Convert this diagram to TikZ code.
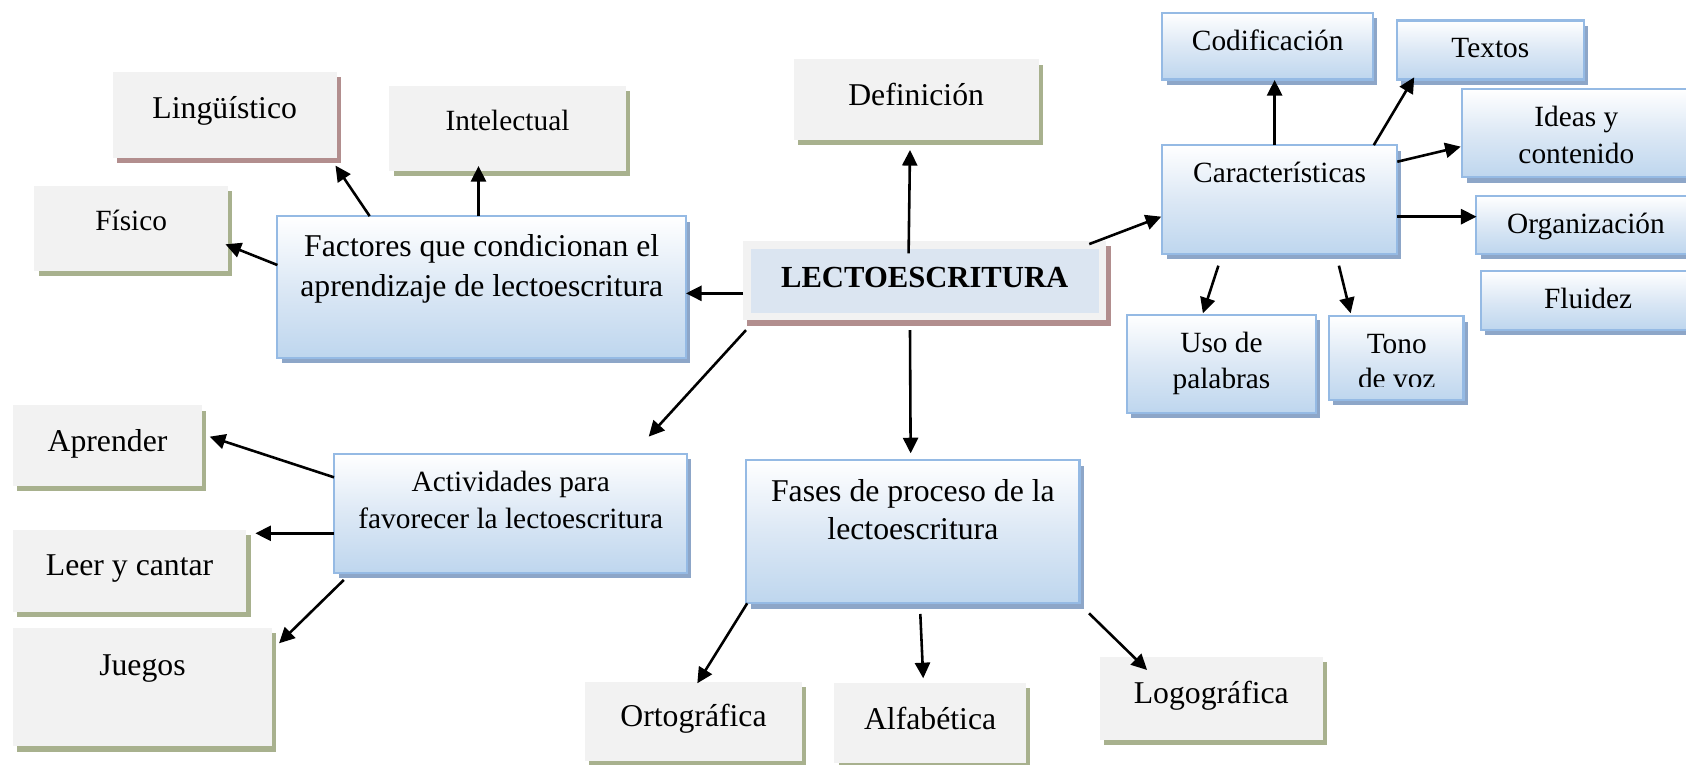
\documentclass[tikz,border=0pt]{standalone}
\usepackage{fontspec}
\setmainfont{Liberation Serif}
\usetikzlibrary{shadows,arrows.meta}
\definecolor{gfill}{RGB}{242,242,242}
\definecolor{gshad}{RGB}{168,177,142}
\definecolor{rshad}{RGB}{178,142,142}
\definecolor{bline}{RGB}{149,186,228}
\definecolor{bfill}{RGB}{190,214,238}
\definecolor{bmid}{RGB}{220,232,245}
\definecolor{bshad}{RGB}{141,166,200}
\definecolor{linner}{RGB}{219,229,241}
\tikzset{
 bx/.style={anchor=north west, inner sep=0pt, outer sep=0pt},
 graybox/.style={bx, fill=gfill, drop shadow={shadow xshift=4pt, shadow yshift=-5pt, fill=gshad, opacity=1}},
 redbox/.style={bx, fill=gfill, drop shadow={shadow xshift=4pt, shadow yshift=-5pt, fill=rshad, opacity=1}},
 bluebox/.style={bx, draw=bline, line width=2pt, top color=white, bottom color=bfill, middle color=bmid, drop shadow={shadow xshift=4pt, shadow yshift=-5pt, fill=bshad, opacity=1}},
 innerbox/.style={bx, fill=linner},
 txtL/.style={anchor=base, inner sep=0pt, font=\fontsize{29.5}{35}\selectfont},
 txtS/.style={anchor=base, inner sep=0pt, font=\fontsize{27.3}{33}\selectfont},
 txtB/.style={anchor=base, inner sep=0pt, font=\fontsize{28.5}{34}\selectfont\bfseries},
 arr/.style={line width=2.4pt, -{Triangle[length=14.5pt,width=14pt]}},
}
\newcommand\mkbox[6]{\node[#1, minimum width={(#5-#3)*1pt}, minimum height={(#6-#4)*1pt}] (#2) at (#3,#4) {};}
\begin{document}
\begin{tikzpicture}[x=1pt,y=-1pt]
\fill[white] (0,0) rectangle (1568,711);
\useasboundingbox (0,0) rectangle (1568,711);
% boxes
\mkbox{redbox}{ling}{105}{67}{313}{147}
\mkbox{graybox}{intel}{362}{80}{582}{159}
\mkbox{graybox}{fis}{32}{173}{212}{252}
\mkbox{bluebox}{fact}{258}{201}{638}{333}
\mkbox{graybox}{defi}{738}{55}{966}{130}
\mkbox{redbox}{lecto}{691}{224}{1029}{298}
\mkbox{innerbox}{lectoIn}{698.5}{231.6}{1022}{290.8}
\mkbox{bluebox}{codi}{1081}{12}{1277}{74}
\mkbox{bluebox}{texto}{1299}{19}{1473}{74}
\mkbox{bluebox}{ideas}{1360}{83}{1575}{165}
\mkbox{bluebox}{carac}{1081}{135}{1299}{236}
\mkbox{bluebox}{orga}{1373}{182}{1577}{236}
\mkbox{bluebox}{flui}{1377}{252}{1578}{307}
\mkbox{bluebox}{uso}{1048}{293}{1224}{384}
\mkbox{bluebox}{tono}{1236}{294}{1361}{372}
\mkbox{bluebox}{acti}{311}{422}{639}{533}
\mkbox{graybox}{apre}{12}{377}{188}{452}
\mkbox{graybox}{leer}{12}{493}{229}{569}
\mkbox{graybox}{jueg}{12}{584}{253}{694}
\mkbox{bluebox}{fase}{694}{428}{1004}{561}
\mkbox{graybox}{orto}{544}{634}{746}{708}
\mkbox{graybox}{alfa}{776}{635}{954}{710}
\mkbox{graybox}{logo}{1023}{611}{1230}{688}
% texts
\node[txtL] (lingT) at (209,110) {Lingüístico};
\node[txtS] (intelT) at (472,121) {Intelectual};
\node[txtS] (fisT) at (122,214) {Físico};
\node[txtL] (factT1) at (448,238.7) {Factores que condicionan el};
\node[txtL] (factT2) at (448,276) {aprendizaje de lectoescritura};
\node[txtL] (defiT) at (852,98.3) {Definición};
\node[txtB] (lectoT) at (860,267.2) {LECTOESCRITURA};
\node[txtS] (codiT) at (1179,47.1) {Codificación};
\node[txtS] (textoT) at (1386,53.3) {Textos};
\node[txtS] (ideasT1) at (1466,117.8) {Ideas y};
\node[txtS] (ideasT2) at (1466,151.9) {contenido};
\node[txtS] (caracT) at (1190,169.9) {Características};
\node[txtS] (orgaT) at (1475,217) {Organización};
\node[txtS] (fluiT) at (1477,286.8) {Fluidez};
\node[txtS] (usoT1) at (1136,328) {Uso de};
\node[txtS] (usoT2) at (1136,361) {palabras};
\node[txtS] (tonoT1) at (1299,328.6) {Tono};
\begin{scope}
\clip (tono.north west) rectangle ([shift={(0,-12.8)}]tono.south east);
\node[txtS] (tonoT2) at (1299,361) {de voz};
\end{scope}
\node[txtS] (actiT1) at (475,457.3) {Actividades para};
\node[txtS] (actiT2) at (475,491.3) {favorecer la lectoescritura};
\node[txtL] (apreT) at (100,420) {Aprender};
\node[txtL] (leerT) at (120.5,534.8) {Leer y cantar};
\node[txtL] (juegT) at (132.5,627.8) {Juegos};
\node[txtL] (faseT1) at (849,466.6) {Fases de proceso de la};
\node[txtL] (faseT2) at (849,502.2) {lectoescritura};
\node[txtL] (ortoT) at (645,675.8) {Ortográfica};
\node[txtL] (alfaT) at (865,678.3) {Alfabética};
\node[txtL] (logoT) at (1126.5,654.1) {Logográfica};
% connectors
\draw[arr] ([shift={(85.8,0)}]fact.north west) -- ([shift={(-1,7)}]ling.south east);
\draw[arr] ([shift={(187,0)}]fact.north west) -- ([shift={(83,-4.6)}]intel.south west);
\draw[arr] ([shift={(0,45.5)}]fact.north west) -- ([shift={(-2.3,54.2)}]fis.north east);
\draw[arr] ([shift={(0,48.8)}]lecto.north west) -- ([shift={(0,71.8)}]fact.north east);
\draw[arr] ([shift={(154,11.6)}]lecto.north west) -- ([shift={(108.3,9.5)}]defi.south west);
\draw[arr] ([shift={(-16,3)}]lecto.north east) -- ([shift={(-1,66.5)}]carac.north west);
\draw[arr] ([shift={(2.8,9)}]lecto.south west) -- ([shift={(292.3,-15.9)}]acti.north west);
\draw[arr] ([shift={(155.3,9)}]lecto.south west) -- ([shift={(152.9,-6.4)}]fase.north west);
\draw[arr] ([shift={(104.4,0)}]carac.north west) -- ([shift={(104.4,0.4)}]codi.south west);
\draw[arr] ([shift={(196.6,0)}]carac.north west) -- ([shift={(16.2,-2.1)}]texto.south west);
\draw[arr] ([shift={(0.5,15.4)}]carac.north east) -- ([shift={(-1.5,53.4)}]ideas.north west);
\draw[arr] ([shift={(0.5,66.5)}]carac.north east) -- ([shift={(0.2,19.5)}]orga.north west);
\draw[arr] ([shift={(52.1,11.1)}]carac.south west) -- ([shift={(70.7,-1.6)}]uso.north west);
\draw[arr] ([shift={(164.2,11.1)}]carac.south west) -- ([shift={(20.1,-2.6)}]tono.north west);
\draw[arr] ([shift={(-0.4,21.9)}]acti.north west) -- ([shift={(7.1,29.1)}]apre.north east);
\draw[arr] ([shift={(-0.4,74)}]acti.north west) -- ([shift={(8.5,3)}]leer.north east);
\draw[arr] ([shift={(8.7,6.4)}]acti.south west) -- ([shift={(6.5,14.3)}]jueg.north east);
\draw[arr] ([shift={(0.9,0.1)}]fase.south west) -- ([shift={(104.5,1.5)}]orto.north west);
\draw[arr] ([shift={(161.9,10)}]fase.south west) -- ([shift={(82.6,-4.2)}]alfa.north west);
\draw[arr] ([shift={(8.8,9.4)}]fase.south east) -- ([shift={(43.8,12.1)}]logo.north west);
\end{tikzpicture}
\end{document}
